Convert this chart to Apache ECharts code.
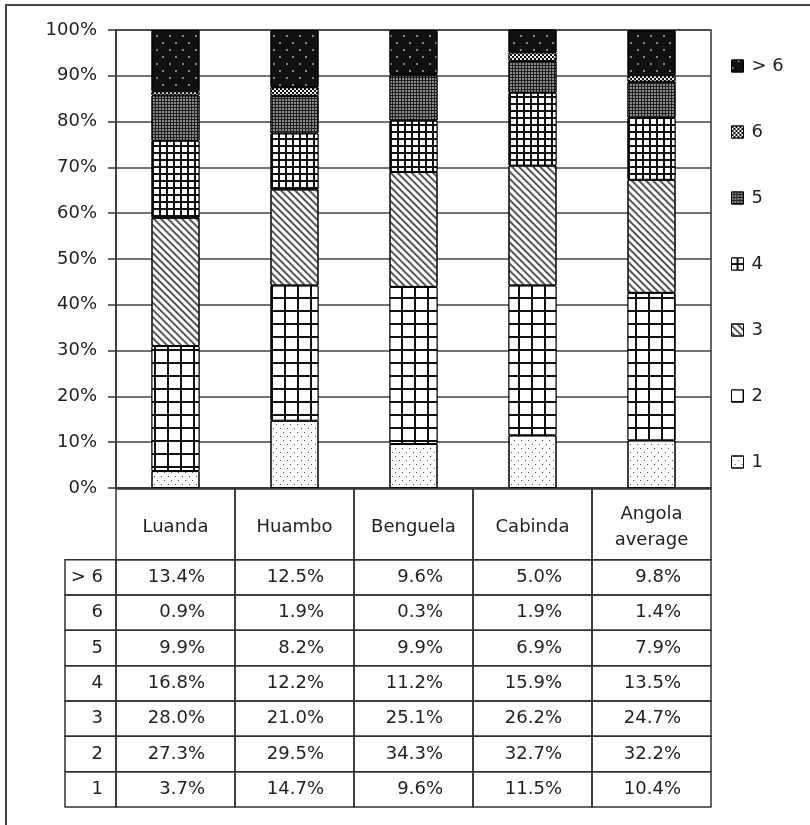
<!DOCTYPE html>
<html><head><meta charset="utf-8">
<script src="https://cdn.jsdelivr.net/npm/echarts@6/dist/echarts.min.js"></script>
<style>
html,body{margin:0;padding:0;background:#fff;}
#wrap{position:relative;width:810px;height:825px;overflow:hidden;}
#chart{width:810px;height:825px;}
#wrap::after{content:'';position:absolute;left:5px;top:4px;width:900px;height:900px;border-left:2px solid #444;border-top:2px solid #444;pointer-events:none;}
</style></head><body>
<div id="wrap"><div id="chart"></div></div>
<script>
// ---- data ----
const categories = ['Luanda', 'Huambo', 'Benguela', 'Cabinda', 'Angola\naverage'];
const seriesNames = ['1', '2', '3', '4', '5', '6', '> 6'];
const v1 = [3.7, 14.7, 9.6, 11.5, 10.4];
const v2 = [27.3, 29.5, 34.3, 32.7, 32.2];
const v3 = [28.0, 21.0, 25.1, 26.2, 24.7];
const v4 = [16.8, 12.2, 11.2, 15.9, 13.5];
const v5 = [9.9, 8.2, 9.9, 6.9, 7.9];
const v6 = [0.9, 1.9, 0.3, 1.9, 1.4];
const v7 = [13.4, 12.5, 9.6, 5.0, 9.8];
const legendOrder = ['> 6', '6', '5', '4', '3', '2', '1'];
const yMin = 0, yMax = 100, yStep = 10;

const values = [v1, v2, v3, v4, v5, v6, v7];
const FONT = '"DejaVu Sans", sans-serif';
const FS = 18;

// ---- pattern styles ----
const styles = [
  { color: '#fff', decal: { symbol: 'rect', symbolSize: 1, symbolKeepAspect: false, color: '#555', dashArrayX: [[1, 6], [0, 3, 1, 3]], dashArrayY: [1, 3] } },
  { color: '#111', decal: { symbol: 'rect', symbolSize: 1, symbolKeepAspect: false, color: '#fff', dashArrayX: [[11, 2]], dashArrayY: [11, 2] } },
  { color: '#fff', decal: { symbol: 'rect', symbolSize: 1, symbolKeepAspect: false, color: '#555', dashArrayX: [[10, 0]], dashArrayY: [2, 3], rotation: Math.PI / 4 } },
  { color: '#111', decal: { symbol: 'rect', symbolSize: 1, symbolKeepAspect: false, color: '#fff', dashArrayX: [[5, 2]], dashArrayY: [5, 2] } },
  { color: '#222', decal: { symbol: 'rect', symbolSize: 1, symbolKeepAspect: false, color: '#888', dashArrayX: [[2, 1]], dashArrayY: [2, 1] } },
  { color: '#111', decal: { symbol: 'rect', symbolSize: 1, symbolKeepAspect: false, color: '#eee', dashArrayX: [[2, 2], [0, 2, 2, 0]], dashArrayY: [2, 0] } },
  { color: '#111', decal: { symbol: 'circle', symbolSize: 1, symbolKeepAspect: false, color: '#aaa', dashArrayX: [[2, 11], [0, 6, 2, 5]], dashArrayY: [2, 5] } }
];

// ---- table cells (built from arrays) ----
const HEADER_ROWS = 2;
const cells = [];
categories.forEach((c, i) => cells.push({ x0: i, x1: i + 1, y0: 0, y1: HEADER_ROWS, text: c, align: 'center', dy: 3 }));
legendOrder.forEach((name, r) => {
  const si = seriesNames.indexOf(name);
  const y0 = HEADER_ROWS + r;
  cells.push({ x0: -0.4286, x1: 0, y0: y0, y1: y0 + 1, text: name, align: 'right', pad: 13, dy: 0 });
  values[si].forEach((v, i) => cells.push({ x0: i, x1: i + 1, y0: y0, y1: y0 + 1, text: v.toFixed(1) + '%', align: 'right', pad: 30, dy: 0 }));
});

const chart = echarts.init(document.getElementById('chart'), null, { renderer: 'canvas' });

const barSeries = seriesNames.map((name, i) => ({
  name: name,
  type: 'bar',
  stack: 'total',
  barWidth: 48,
  xAxisIndex: 0, yAxisIndex: 0,
  itemStyle: { color: styles[i].color, decal: styles[i].decal, borderColor: '#000', borderWidth: 1 },
  emphasis: { disabled: true },
  data: values[i]
}));

const tableSeries = {
  type: 'custom',
  xAxisIndex: 1, yAxisIndex: 1,
  clip: false,
  silent: true,
  encode: { x: [0, 2], y: [1, 3] },
  data: cells.map(c => [c.x0, c.y0, c.x1, c.y1]),
  renderItem: function (params, api) {
    const cell = cells[params.dataIndex];
    const p0 = api.coord([api.value(0), api.value(1)]);
    const p1 = api.coord([api.value(2), api.value(3)]);
    let tx, align;
    if (cell.align === 'right') { tx = p1[0] - cell.pad; align = 'right'; }
    else { tx = (p0[0] + p1[0]) / 2; align = 'center'; }
    return {
      type: 'group',
      children: [
        { type: 'rect', shape: { x: p0[0], y: p0[1], width: p1[0] - p0[0], height: p1[1] - p0[1] },
          style: { fill: 'none', stroke: '#333', lineWidth: 1.5 } },
        { type: 'text', style: { text: cell.text, x: tx, y: (p0[1] + p1[1]) / 2 + cell.dy, align: align, verticalAlign: 'middle',
          fill: '#222', fontSize: FS, fontFamily: FONT, lineHeight: 26 } }
      ]
    };
  }
};

chart.setOption({
  animation: false,
  backgroundColor: '#fff',
  textStyle: { fontFamily: FONT },
  grid: [
    { left: 116, right: 99, top: 30, bottom: 337, show: true, borderColor: '#333', borderWidth: 1.5, backgroundColor: 'transparent' },
    { left: 65, right: 99, top: 489, bottom: 18 }
  ],
  legend: {
    orient: 'vertical', left: 731, top: 57, padding: 0,
    itemWidth: 12, itemHeight: 12, itemGap: 48,
    icon: 'rect',
    data: legendOrder,
    selectedMode: false,
    itemStyle: { borderColor: '#000', borderWidth: 1 },
    textStyle: { fontSize: FS, color: '#222', fontFamily: FONT, padding: [0, 0, 0, 3] }
  },
  xAxis: [
    { type: 'category', gridIndex: 0, data: categories, axisLabel: { show: false }, axisTick: { show: false },
      axisLine: { show: true, lineStyle: { color: '#333', width: 1.5 } } },
    { type: 'value', gridIndex: 1, min: -0.4286, max: categories.length, show: false }
  ],
  yAxis: [
    { type: 'value', gridIndex: 0, min: yMin, max: yMax, interval: yStep,
      axisLabel: { formatter: '{value}%', fontSize: FS, color: '#222', margin: 19, fontFamily: FONT },
      axisTick: { show: true, length: 8, lineStyle: { color: '#333', width: 1.5 } },
      axisLine: { show: true, lineStyle: { color: '#333', width: 1.5 } },
      splitLine: { show: true, lineStyle: { color: '#444', width: 1.5 } } },
    { type: 'value', gridIndex: 1, min: 0, max: HEADER_ROWS + legendOrder.length, inverse: true, show: false }
  ],
  series: barSeries.concat([tableSeries])
});
</script>
</body></html>
